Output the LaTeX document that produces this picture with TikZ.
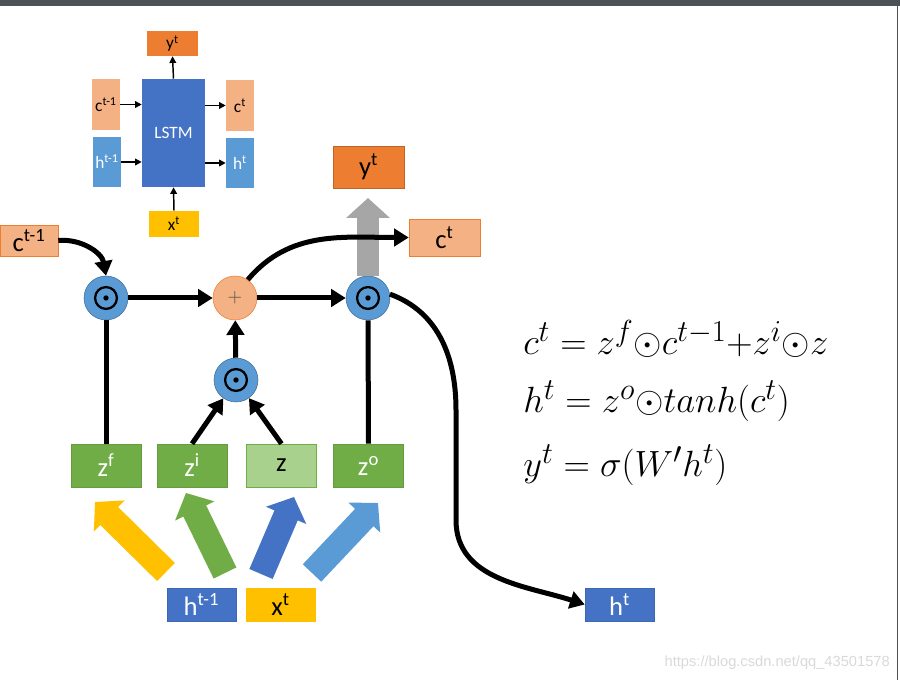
\documentclass[tikz,border=0pt]{standalone}
\usepackage{fontspec}
\setmainfont{Carlito}
\newfontfamily\wmfont{Liberation Sans}
\usetikzlibrary{arrows.meta}
\definecolor{cellorange}{HTML}{ED7D31}
\definecolor{cellsalmon}{HTML}{F4B183}
\definecolor{cellblue}{HTML}{4472C4}
\definecolor{celllblue}{HTML}{5B9BD5}
\definecolor{cellgreen}{HTML}{70AD47}
\definecolor{celllgreen}{HTML}{A9D18E}
\definecolor{cellgold}{HTML}{FFC000}
\definecolor{cellgray}{HTML}{A6A6A6}
\definecolor{framegray}{HTML}{4D5257}
\tikzset{
  box/.style={draw, inner sep=0pt, font=\fontsize{20}{20}\selectfont},
  sbox/.style={inner sep=0pt, font=\fontsize{13}{13}\selectfont},
  op/.style={circle, draw=celllblue!70!black, fill=celllblue, inner sep=0pt,
    minimum size=44*0.75pt},
  odot/.style={op, path picture={
    \draw[black,line width=1.7pt] (path picture bounding box.center) circle (8.2pt);
    \fill[black] (path picture bounding box.center) circle (2pt);}},
  flow/.style={line width=3.75pt, -{Triangle[length=11pt,width=13pt]}},
  thin flow/.style={line width=1.1pt, -{Triangle[length=5pt,width=5pt]}},
  fat/.style={line width=19pt, -{Triangle[length=15pt,width=32pt]}}
}
\begin{document}
\begin{tikzpicture}[x=0.75pt,y=-0.75pt]
\useasboundingbox (0,0) rectangle (900,680);
\fill[framegray] (0,0) rectangle (900,6);
\fill[framegray] (896.5,6) rectangle (898,680);

% small LSTM block
\node[sbox,fill=cellblue,text=white,minimum width=63*0.75pt,minimum height=108*0.75pt] (lstm) at (173.5,133) {LSTM};
\node[sbox,fill=cellorange,minimum width=51*0.75pt,minimum height=25*0.75pt] (syt) at (172.5,43.5) {y\textsuperscript{t}};
\node[sbox,fill=cellsalmon,minimum width=28*0.75pt,minimum height=51*0.75pt] (scprev) at (106,104.5) {c\textsuperscript{t-1}};
\node[sbox,fill=celllblue,text=white,minimum width=28*0.75pt,minimum height=50*0.75pt] (shprev) at (107,162) {h\textsuperscript{t-1}};
\node[sbox,fill=cellsalmon,minimum width=28*0.75pt,minimum height=51*0.75pt] (sct) at (240,105.5) {c\textsuperscript{t}};
\node[sbox,fill=celllblue,text=white,minimum width=28*0.75pt,minimum height=50*0.75pt] (sht) at (240,163) {h\textsuperscript{t}};
\node[sbox,fill=cellgold,minimum width=50*0.75pt,minimum height=26*0.75pt] (sxt) at (174,224) {x\textsuperscript{t}};
\draw[thin flow] (scprev.east) -- (scprev.east -| lstm.west);
\draw[thin flow] (shprev.east) -- (shprev.east -| lstm.west);
\draw[thin flow] (sct.west -| lstm.east) -- (sct.west);
\draw[thin flow] (sht.west -| lstm.east) -- (sht.west);
\draw[thin flow] (sxt.north) -- (lstm.south);
\draw[thin flow] (lstm.north) -- (syt.south);

% cell
\node[box,draw=cellorange,fill=cellsalmon,minimum width=58*0.75pt,minimum height=31*0.75pt] (cprev) at (29,240.5) {c\textsuperscript{t-1}};
\node[box,draw=cellorange!80!black,fill=cellorange,minimum width=71*0.75pt,minimum height=42*0.75pt] (yout) at (368.5,167) {y\textsuperscript{t}};
\node[box,draw=cellorange,fill=cellsalmon,minimum width=71*0.75pt,minimum height=37*0.75pt] (cnext) at (444.5,237.5) {c\textsuperscript{t}};
\node[odot] (dot1) at (106,298) {};
\node[op,draw=cellorange,fill=cellsalmon,font=\fontsize{15}{15}\selectfont,text=black!70] (plus) at (235,298) {$+$};
\node[odot] (dot3) at (368,298) {};
\node[odot] (dot2) at (236,380) {};

\node[box,draw=cellgreen!90!black,fill=cellgreen,text=white,minimum width=70*0.75pt,minimum height=43*0.75pt] (zf) at (106,465.5) {z\textsuperscript{f}};
\node[box,draw=cellgreen!90!black,fill=cellgreen,text=white,minimum width=70*0.75pt,minimum height=43*0.75pt] (zi) at (192,465.5) {z\textsuperscript{i}};
\node[box,draw=cellgreen,fill=celllgreen,minimum width=70*0.75pt,minimum height=43*0.75pt] (zz) at (281.5,465.5) {z};
\node[box,draw=cellgreen!90!black,fill=cellgreen,text=white,minimum width=70*0.75pt,minimum height=43*0.75pt] (zo) at (368.5,465.5) {z\textsuperscript{o}};

\node[box,draw=cellblue!90!black,fill=cellblue,text=white,minimum width=69*0.75pt,minimum height=33*0.75pt] (hprev) at (201.5,604.5) {h\textsuperscript{t-1}};
\node[box,draw=cellgold,fill=cellgold,minimum width=69*0.75pt,minimum height=33*0.75pt] (xin) at (280.5,604.5) {x\textsuperscript{t}};
\node[box,draw=cellblue!90!black,fill=cellblue,text=white,minimum width=69*0.75pt,minimum height=33*0.75pt] (hnext) at (619.5,604.5) {h\textsuperscript{t}};

% fat input arrows
\coordinate (fa1s) at (166,572);
\coordinate (fa1e) at (95,502);
\coordinate (fa2s) at (225,573);
\coordinate (fa2e) at (186,493);
\coordinate (fa3s) at (261,574);
\coordinate (fa3e) at (294,497);
\coordinate (fa4s) at (312,573);
\coordinate (fa4e) at (378,503);
\draw[fat,cellgold] (fa1s) -- (fa1e);
\draw[fat,cellgreen] (fa2s) -- (fa2e);
\draw[fat,cellblue] (fa3s) -- (fa3e);
\draw[fat,celllblue] (fa4s) -- (fa4e);

% gray output arrow
\coordinate (ytip) at (368,198);
\draw[fat,cellgray,line width=16.5pt] (dot3.north) -- (ytip);

% black flows
\draw[flow] (cprev.east) to[out=5,in=100] (dot1.north);
\draw[flow] (dot1) -- (plus);
\draw[flow] (plus) -- (dot3);
\draw[flow] (dot2) -- (plus);
\draw[flow] (plus.55) to[out=50,in=180] (cnext.west);
\draw[line width=3.75pt] (zf.north) -- (dot1.south);
\draw[line width=3.75pt] (zo.north) -- (dot3.south);
\draw[flow] (zi.north) -- (dot2);
\draw[flow] (zz.north) -- (dot2);
\coordinate (bend1) at (456,410);
\coordinate (bend2) at (456,520);
\draw[flow] (dot3.10) to[out=-20,in=90] (bend1) -- (bend2) to[out=-90,in=162] (hnext.west);

% equations
\begin{scope}[every node/.style={anchor=base west,inner sep=0pt,scale=1.1,transform shape,font=\fontsize{24.88}{25}\selectfont}]
\node (eqc) at (523,355) {$c^t = z^f{\odot}c^{t-1}{+}z^i{\odot}z$};
\node (eqh) at (523,413) {$h^t = z^o{\odot}tanh(c^t)$};
\node (eqy) at (523,477) {$y^t = \sigma(W'h^t)$};
\end{scope}

\node[anchor=base east,inner sep=0pt,text=black!15,font=\wmfont\fontsize{11}{11}\selectfont] (wm) at (890,667) {https://blog.csdn.net/qq\_43501578};
\end{tikzpicture}
\end{document}
